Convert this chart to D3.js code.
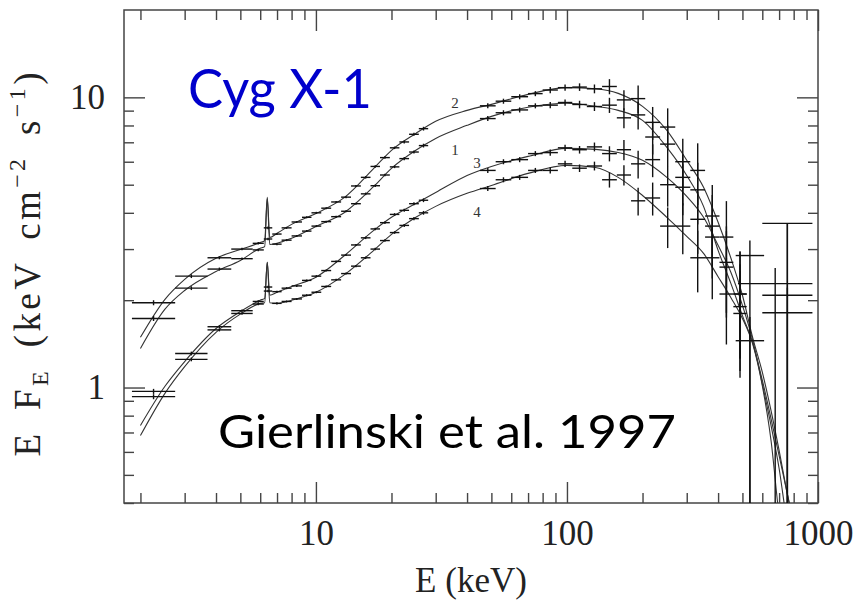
<!DOCTYPE html>
<html>
<head>
<meta charset="utf-8">
<script src="https://cdn.jsdelivr.net/npm/d3@7"></script>
<style>
body { margin: 0; background: #fff; }
</style>
</head>
<body>
<script>
var width = 860, height = 606;

// model spectra, E (keV) and E F_E
var modelE = [2, 2.5, 3, 4, 5, 6, 6.25, 6.4, 6.55, 7, 8, 10, 13, 17, 20, 25, 30, 40, 50, 70, 100, 130, 160, 200, 250, 300, 350, 400, 450, 500, 550, 600, 650, 700, 750, 800];
var model1 = [1.363, 1.858, 2.16, 2.51, 2.74, 3.02, 3.06, 4.48, 3.11, 3.14, 3.27, 3.59, 4.01, 4.93, 5.69, 6.57, 7.22, 8.01, 8.60, 9.24, 9.54, 9.31, 9.02, 8.33, 6.72, 5.38, 4.21, 2.97, 2.28, 1.77, 1.42, 1.06, 0.782, 0.583, 0.441, 0.342];
var model2 = [1.49, 2.01, 2.36, 2.79, 2.99, 3.16, 3.21, 4.52, 3.29, 3.40, 3.65, 3.98, 4.52, 5.69, 6.57, 7.51, 8.27, 9.02, 9.46, 10.24, 10.8, 10.7, 10.32, 9.31, 7.69, 6.07, 4.90, 3.71, 2.79, 2.08, 1.48, 1.13, 0.833, 0.607, 0.441, 0.334];
var model3 = [0.740, 1.008, 1.229, 1.597, 1.828, 2.00, 2.03, 2.70, 2.08, 2.13, 2.23, 2.40, 2.85, 3.48, 3.86, 4.31, 4.70, 5.38, 5.78, 6.26, 6.67, 6.62, 6.46, 6.07, 5.30, 4.56, 3.86, 3.09, 2.49, 1.92, 1.45, 1.03, 0.740, 0.526, 0.348, 0.25];
var model4 = [0.683, 0.953, 1.18, 1.55, 1.79, 1.95, 1.96, 2.70, 1.96, 1.95, 2.00, 2.13, 2.45, 2.97, 3.37, 3.86, 4.21, 4.67, 4.97, 5.47, 5.83, 5.73, 5.30, 4.59, 3.86, 3.32, 2.90, 2.41, 2.04, 1.73, 1.41, 1.016, 0.657, 0.362, 0.25, 0.2];

// data bins (keV)
var binLo = [1.85, 2.75, 3.7, 4.6, 5.6, 6.2, 6.7, 7.3, 8.0, 8.8, 9.6, 10.5, 11.5, 12.6, 13.8, 15.1, 16.5, 18.0, 19.7, 21.5, 23.5, 25.7, 45, 52, 60, 70, 80, 92, 105, 120, 138, 158, 180, 205, 235, 270, 310, 355, 405, 460];
var binHi = [2.75, 3.7, 4.6, 5.6, 6.2, 6.7, 7.3, 8.0, 8.8, 9.6, 10.5, 11.5, 12.6, 13.8, 15.1, 16.5, 18.0, 19.7, 21.5, 23.5, 25.7, 28.0, 52, 60, 70, 80, 92, 105, 120, 138, 158, 180, 205, 235, 270, 310, 355, 405, 460, 520];
var relErr = [0.02, 0.015, 0.012, 0.01, 0.01, 0.01, 0.008, 0.008, 0.008, 0.008, 0.008, 0.008, 0.008, 0.008, 0.008, 0.01, 0.01, 0.01, 0.01, 0.012, 0.012, 0.015, 0.02, 0.02, 0.02, 0.02, 0.025, 0.025, 0.03, 0.035, 0.06, 0.08, 0.11, 0.13, 0.16, 0.2, 0.24, 0.28, 0.33, 0.4];
var flux1 = [1.73, 2.20, 2.56, 2.78, 2.98, 3.25, 3.12, 3.22, 3.33, 3.46, 3.60, 3.73, 3.88, 4.05, 4.30, 4.65, 4.96, 5.40, 5.76, 6.15, 6.48, 6.82, 8.45, 8.85, 9.05, 9.35, 9.40, 9.60, 9.45, 9.30, 9.4, 8.5, 8.7, 7.3, 6.9, 5.3, 4.8, 3.3, 2.7, 1.8];
var flux2 = [1.96, 2.42, 2.80, 3.00, 3.14, 3.55, 3.38, 3.55, 3.72, 3.86, 4.00, 4.15, 4.36, 4.53, 4.95, 5.30, 5.78, 6.20, 6.70, 7.02, 7.46, 7.80, 9.35, 9.70, 10.05, 10.3, 10.6, 10.8, 10.85, 10.7, 10.9, 9.8, 9.9, 8.2, 7.9, 6.0, 5.6, 3.9, 3.3, 2.1];
var flux3 = [0.97, 1.31, 1.62, 1.84, 1.98, 2.22, 2.14, 2.20, 2.24, 2.34, 2.42, 2.53, 2.72, 2.86, 3.10, 3.28, 3.52, 3.70, 3.95, 4.08, 4.30, 4.42, 5.6, 6.0, 6.1, 6.4, 6.45, 6.7, 6.6, 6.75, 6.4, 6.6, 5.9, 6.1, 5.0, 4.9, 3.8, 3.6, 2.6, 2.1];
var flux4 = [0.93, 1.25, 1.58, 1.80, 1.94, 2.15, 1.95, 1.98, 2.02, 2.08, 2.13, 2.23, 2.35, 2.47, 2.62, 2.80, 3.00, 3.21, 3.42, 3.62, 3.82, 4.00, 4.85, 5.2, 5.3, 5.6, 5.6, 5.9, 5.7, 5.8, 5.2, 5.4, 4.4, 4.5, 3.6, 3.6, 2.8, 2.8, 2.1, 1.9];

// last high-energy bins with big errors
var extraLo = [470, 470, 600, 480, 600, 600];
var extraHi = [610, 610, 950, 950, 950, 950];
var extraF = [2.85, 1.45, 3.68, 2.28, 2.08, 1.81];
var extraUp = [0.36, 0.3, 0, 0.3, 1.6, 0.4];

// axis ticks
var xMajor = [10, 100, 1000];
var xMinor = [2, 3, 4, 5, 6, 7, 8, 9, 20, 30, 40, 50, 60, 70, 80, 90, 200, 300, 400, 500, 600, 700, 800, 900];
var yMajor = [1, 10];
var yMinor = [0.4, 0.5, 0.6, 0.7, 0.8, 0.9, 2, 3, 4, 5, 6, 7, 8, 9];

var curveLabels = ["2", "1", "3", "4"];
var curveLabelE = [35.8, 35.8, 43.8, 43.8];
var curveLabelF = [9.16, 6.31, 5.69, 3.86];

// plot box in pixels
var pL = 124, pR = 818, pT = 10, pB = 503;

var x = d3.scaleLog().domain([1.72, 1000]).range([pL, pR]);
var y = d3.scaleLog().domain([0.4, 20]).range([pB, pT]);

var svg = d3.select("body").append("svg")
    .attr("width", width)
    .attr("height", height);

svg.append("defs").append("clipPath")
    .attr("id", "plotclip")
    .append("rect")
    .attr("x", pL).attr("y", pT)
    .attr("width", pR - pL).attr("height", pB - pT);

var axisColor = "#444";
var serif = "'Liberation Serif', 'Times New Roman', serif";

function styleAxis(g) {
    g.select(".domain").remove();
    g.selectAll("line").attr("stroke", axisColor).attr("stroke-width", 1.4);
    g.selectAll("text")
        .attr("fill", "#222")
        .style("font-family", serif)
        .style("font-size", "35px");
}

// inward ticks on all four sides
svg.append("g").attr("transform", "translate(0," + pB + ")")
    .call(d3.axisBottom(x).tickValues(xMinor).tickSize(-10).tickFormat(""))
    .call(styleAxis);
svg.append("g").attr("transform", "translate(0," + pB + ")")
    .call(d3.axisBottom(x).tickValues(xMajor).tickSize(-21).tickPadding(17).tickFormat(d3.format("d")))
    .call(styleAxis);
svg.append("g").attr("transform", "translate(0," + pT + ")")
    .call(d3.axisTop(x).tickValues(xMinor).tickSize(-10).tickFormat(""))
    .call(styleAxis);
svg.append("g").attr("transform", "translate(0," + pT + ")")
    .call(d3.axisTop(x).tickValues(xMajor).tickSize(-21).tickFormat(""))
    .call(styleAxis);
svg.append("g").attr("transform", "translate(" + pL + ",0)")
    .call(d3.axisLeft(y).tickValues(yMinor).tickSize(-10).tickFormat(""))
    .call(styleAxis);
svg.append("g").attr("transform", "translate(" + pL + ",0)")
    .call(d3.axisLeft(y).tickValues(yMajor).tickSize(-21).tickPadding(19).tickFormat(d3.format("d")))
    .call(styleAxis);
svg.append("g").attr("transform", "translate(" + pR + ",0)")
    .call(d3.axisRight(y).tickValues(yMinor).tickSize(-10).tickFormat(""))
    .call(styleAxis);
svg.append("g").attr("transform", "translate(" + pR + ",0)")
    .call(d3.axisRight(y).tickValues(yMajor).tickSize(-21).tickFormat(""))
    .call(styleAxis);

svg.append("rect")
    .attr("x", pL).attr("y", pT)
    .attr("width", pR - pL).attr("height", pB - pT)
    .attr("fill", "none")
    .attr("stroke", axisColor)
    .attr("stroke-width", 1.5);

var plot = svg.append("g").attr("clip-path", "url(#plotclip)");

// model curves
var line = d3.line()
    .x(function(d) { return x(d[0]); })
    .y(function(d) { return y(d[1]); })
    .curve(d3.curveMonotoneX);

[model1, model2, model3, model4].forEach(function(m) {
    plot.append("path")
        .datum(modelE.map(function(e, i) { return [e, m[i]]; }))
        .attr("d", line)
        .attr("fill", "none")
        .attr("stroke", "#333")
        .attr("stroke-width", 1.1);
});

// data crosses
var points = [];
[flux1, flux2, flux3, flux4].forEach(function(f) {
    f.forEach(function(v, i) {
        points.push({lo: binLo[i], hi: binHi[i], f: v, up: v * relErr[i], down: v * relErr[i]});
    });
});
extraF.forEach(function(v, i) {
    points.push({lo: extraLo[i], hi: extraHi[i], f: v, up: extraUp[i], down: v});
});

var yFloor = 0.3;
var cross = plot.append("g").attr("stroke", "#111").attr("stroke-width", 1.4);
cross.selectAll("line.h").data(points).enter().append("line")
    .attr("class", "h")
    .attr("x1", function(d) { return x(d.lo); })
    .attr("x2", function(d) { return x(d.hi); })
    .attr("y1", function(d) { return y(d.f); })
    .attr("y2", function(d) { return y(d.f); });
cross.selectAll("line.v").data(points).enter().append("line")
    .attr("class", "v")
    .attr("x1", function(d) { return x(Math.sqrt(d.lo * d.hi)); })
    .attr("x2", function(d) { return x(Math.sqrt(d.lo * d.hi)); })
    .attr("y1", function(d) { return y(d.f + d.up); })
    .attr("y2", function(d) { return y(Math.max(d.f - d.down, yFloor)); });

// curve numbers
svg.selectAll("text.clabel").data(curveLabels).enter().append("text")
    .attr("class", "clabel")
    .attr("x", function(d, i) { return x(curveLabelE[i]); })
    .attr("y", function(d, i) { return y(curveLabelF[i]); })
    .attr("text-anchor", "middle")
    .style("font-family", serif)
    .style("font-size", "15px")
    .attr("fill", "#333")
    .text(function(d) { return d; });

// axis titles
svg.append("text")
    .attr("x", (pL + pR) / 2)
    .attr("y", 592)
    .attr("text-anchor", "middle")
    .style("font-family", serif)
    .style("font-size", "35px")
    .attr("fill", "#222")
    .text("E (keV)");

var yt = svg.append("text")
    .attr("transform", "translate(40," + ((pT + pB) / 2 + 8) + ") rotate(-90)")
    .attr("text-anchor", "middle")
    .attr("textLength", 384)
    .attr("lengthAdjust", "spacing")
    .style("font-family", serif)
    .style("font-size", "37px")
    .style("word-spacing", "8px")
    .attr("fill", "#222");
yt.append("tspan").text("E F");
yt.append("tspan").attr("dy", 8).style("font-size", "24px").text("E");
yt.append("tspan").attr("dy", -8).text(" (keV cm");
yt.append("tspan").attr("dy", -15).style("font-size", "24px").text("\u22122");
yt.append("tspan").attr("dy", 15).text(" s");
yt.append("tspan").attr("dy", -15).style("font-size", "24px").text("\u22121");
yt.append("tspan").attr("dy", 15).text(")");

// annotations
svg.append("text")
    .attr("x", 188).attr("y", 108)
    .attr("textLength", 184)
    .attr("lengthAdjust", "spacingAndGlyphs")
    .style("font-family", "'Comic Sans MS', Lato, sans-serif")
    .style("font-size", "55px")
    .attr("fill", "#0000cc")
    .text("Cyg X-1");

svg.append("text")
    .attr("x", 218).attr("y", 448)
    .attr("textLength", 458)
    .attr("lengthAdjust", "spacingAndGlyphs")
    .style("font-family", "'Comic Sans MS', Lato, sans-serif")
    .style("font-size", "46px")
    .attr("fill", "#000")
    .text("Gierlinski et al. 1997");
</script>
</body>
</html>
